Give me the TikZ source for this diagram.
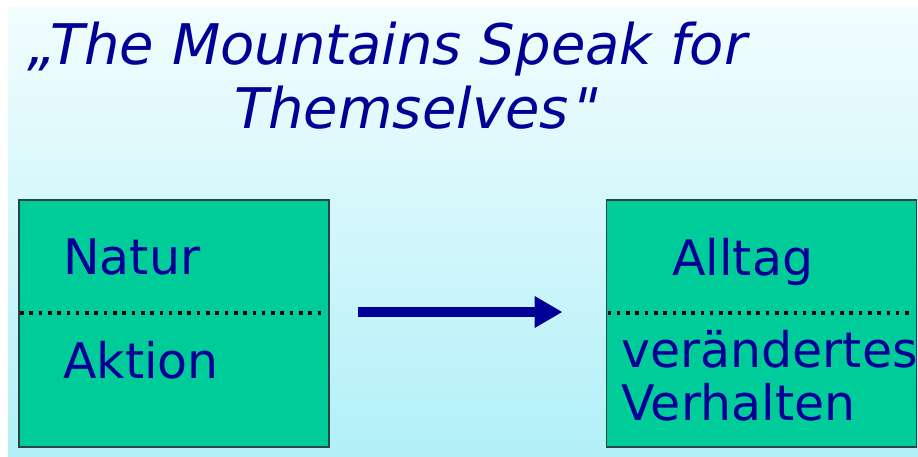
\documentclass[tikz,border=0pt]{standalone}
\usepackage{fontspec}
\setmainfont{DejaVu Sans}[Ligatures=TeXOff]
\newfontfamily\slantquote{DejaVu Sans}[Ligatures=TeXOff, FakeSlant=0.22]
\usetikzlibrary{arrows.meta}
\definecolor{navytext}{RGB}{0,0,150}
\definecolor{boxfill}{RGB}{0,204,153}
\definecolor{boxline}{RGB}{40,70,70}
\definecolor{skytop}{RGB}{242,253,254}
\definecolor{skybottom}{RGB}{178,240,248}
\tikzset{
  panel/.style={rectangle, draw=boxline, line width=1.2pt, fill=boxfill,
    minimum width=310pt, minimum height=247pt, inner sep=0pt, outer sep=0pt},
  label/.style={anchor=base west, inner sep=0pt, text=navytext,
    font=\fontsize{49}{53}\selectfont},
  headline/.style={anchor=base west, inner sep=0pt, text=navytext,
    font=\fontsize{56}{64}\selectfont\itshape},
  divider/.style={line width=3.6pt, dash pattern=on 3.6pt off 5.7pt},
  flow/.style={draw=navytext, line width=10pt,
    -{Triangle[length=28pt,width=30pt]}}
}
\begin{document}
\begin{tikzpicture}[x=1pt,y=-1pt]
  \useasboundingbox (0,0) rectangle (918,456);
  \fill[white] (0,0) rectangle (918,456);
  \shade[top color=skytop, bottom color=skybottom] (8,7) rectangle (918,456);

  % title
  \node[headline] (t1) at (27,64) {„The Mountains Speak for};
  \node[headline] (t2) at (234,128) {Themselves{\slantquote"}};

  % boxes
  \node[panel] (L) at (174,323.5) {};
  \node[panel] (R) at (761.5,323.5) {};

  % dotted separators
  \draw[divider] ([yshift=10.5pt,xshift=1pt]L.west) -- ([yshift=10.5pt,xshift=-4pt]L.east);
  \draw[divider] ([yshift=10.5pt,xshift=1pt]R.west) -- ([yshift=10.5pt,xshift=-4pt]R.east);

  % labels
  \node[label] (natur) at (63,274) {Natur};
  \node[label] (aktion) at (63,378) {Aktion};
  \node[label] (alltag) at (672,275) {Alltag};
  \node[label] (veraendert) at (621,367) {verändertes};
  \node[label] (verhalten) at (621,420) {Verhalten};

  % arrow
  \draw[flow, shorten <=29pt, shorten >=44pt] ([yshift=11.5pt]L.east) -- ([yshift=11.5pt]R.west);
\end{tikzpicture}
\end{document}
